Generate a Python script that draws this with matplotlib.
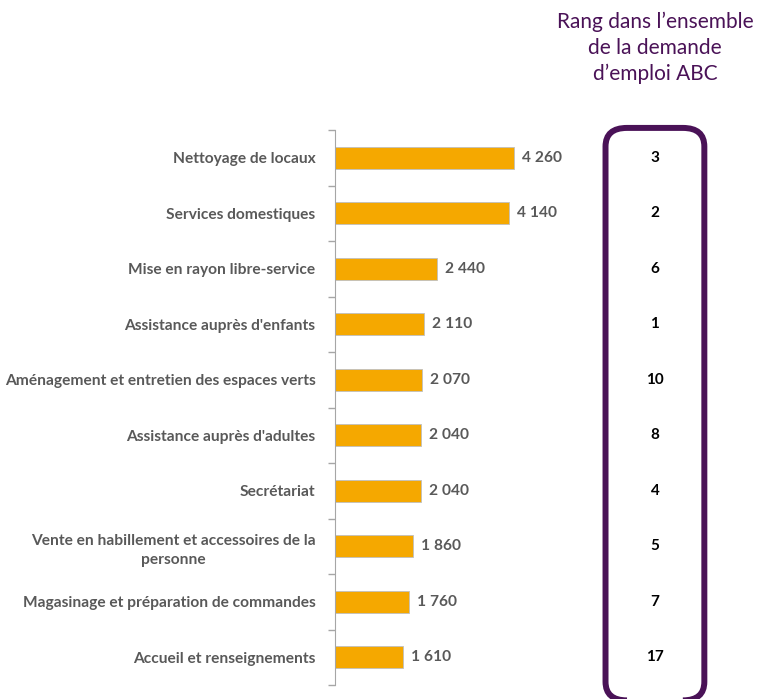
import numpy as np
import matplotlib.pyplot as plt
from matplotlib.patches import FancyBboxPatch
from matplotlib.transforms import blended_transform_factory

categories = ["Nettoyage de locaux",
              "Services domestiques",
              "Mise en rayon libre-service",
              "Assistance auprès d'enfants",
              "Aménagement et entretien des espaces verts",
              "Assistance auprès d'adultes",
              "Secrétariat",
              "Vente en habillement et accessoires de la\npersonne",
              "Magasinage et préparation de commandes",
              "Accueil et renseignements"]
values = [4260, 4140, 2440, 2110, 2070, 2040, 2040, 1860, 1760, 1610]
ranks = [3, 2, 6, 1, 10, 8, 4, 5, 7, 17]
title_right = "Rang dans l\u2019ensemble\nde la demande\nd\u2019emploi ABC"

orange = "#F5A800"
grey = "#595959"
purple = "#4A1257"

plt.rcParams['font.family'] = ['Lato', 'DejaVu Sans']

fig = plt.figure(figsize=(7.66, 6.99), dpi=100)
ax = fig.add_axes([0.4373, 0.02, 0.274, 0.794])

y = np.arange(len(categories))
ax.barh(y, values, height=0.4, color=orange, edgecolor="#BFBFBF", linewidth=0.6)
for yi, v in zip(y, values):
    ax.text(v + 190, yi, f"{v:,}".replace(",", "\u202f"), va="center", ha="left",
            fontsize=11.2, fontweight="bold", color=grey)

ax.set_xlim(0, 5000)
ax.set_ylim(len(categories) - 0.5, -0.5)
ax.set_yticks(y)
ax.set_yticklabels(categories, fontsize=11.2, fontweight="bold", color=grey,
                   ha="right", multialignment="center")
for lab in ax.get_yticklabels():
    lab.set_linespacing(1.45)
ax.tick_params(axis="y", which="major", length=0, pad=14)
ax.set_yticks(np.arange(len(categories) + 1) - 0.5, minor=True)
ax.tick_params(axis="y", which="minor", length=5, color="#A6A6A6", width=1)
ax.set_xticks([])
for s in ["top", "right", "bottom"]:
    ax.spines[s].set_visible(False)
ax.spines["left"].set_color("#A6A6A6")

# rank box
box = FancyBboxPatch((0.7905, -0.002), 0.129, 0.819,
                     boxstyle="round,pad=0,rounding_size=0.028",
                     transform=fig.transFigure, fill=False,
                     edgecolor=purple, linewidth=4.3, mutation_aspect=0.95)
fig.patches.append(box)

trans = blended_transform_factory(fig.transFigure, ax.transData)
for yi, r in zip(y, ranks):
    ax.text(0.855, yi, str(r), transform=trans, ha="center", va="center",
            fontsize=11, fontweight="bold", color="black", clip_on=False)

fig.text(0.855, 0.983, title_right, ha="center", va="top", fontsize=15,
         color=purple, linespacing=1.35)

plt.savefig("out.png", dpi=100)
